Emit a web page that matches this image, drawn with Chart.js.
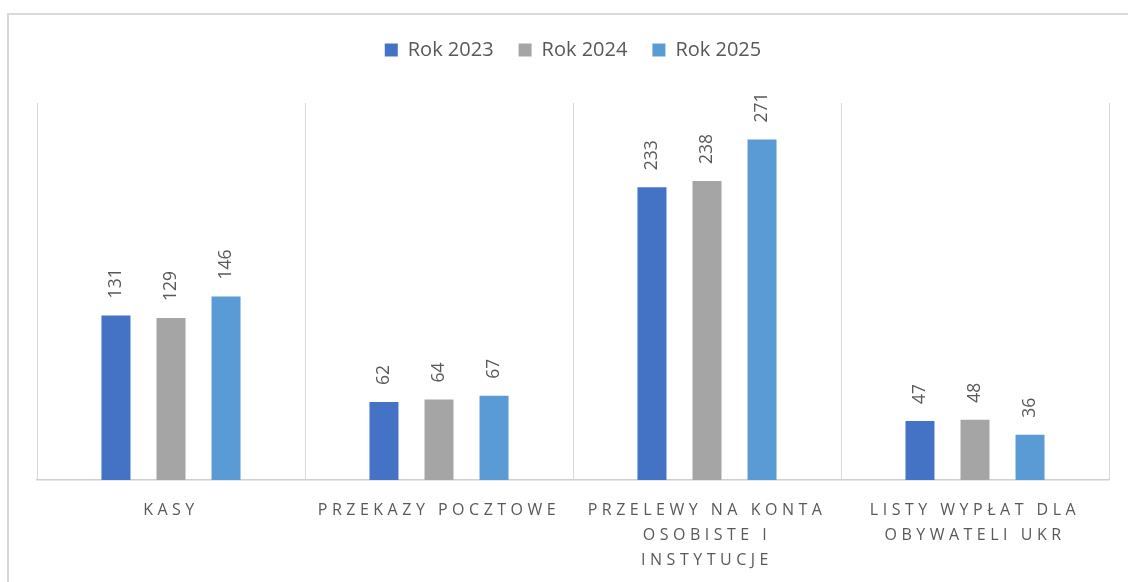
<!DOCTYPE html>
<html><head><meta charset="utf-8">
<script src="https://cdn.jsdelivr.net/npm/chart.js@4.4.1/dist/chart.umd.min.js"></script>
<style>
html,body{margin:0;padding:0;background:#fff;}
#wrap{position:relative;width:1128px;height:582px;overflow:hidden;background:#fff;}
#frame{position:absolute;left:7px;top:13px;width:1200px;height:700px;border-left:2px solid #d9d9d9;border-top:2px solid #d9d9d9;}
canvas{position:absolute;left:0;top:0;}
</style></head><body>
<div id="wrap"><div id="frame"></div><canvas id="c" width="1128" height="582"></canvas></div>
<script>
const categories = [['KASY'], ['PRZEKAZY POCZTOWE'], ['PRZELEWY NA KONTA', 'OSOBISTE I', 'INSTYTUCJE'], ['LISTY WYPŁAT DLA', 'OBYWATELI UKR']];
const seriesNames = ['Rok 2023', 'Rok 2024', 'Rok 2025'];
const values2023 = [131, 62, 233, 47];
const values2024 = [129, 64, 238, 48];
const values2025 = [146, 67, 271, 36];
const seriesColors = ['#4472C4', '#A5A5A5', '#5B9BD5'];
const yMax = 300;

const textColor = '#595959';
const FONT = "'Open Sans', 'Liberation Sans', sans-serif";

const valueLabels = {
  id: 'valueLabels',
  afterDatasetsDraw(chart) {
    const ctx = chart.ctx;
    ctx.save();
    ctx.font = '17.5px ' + FONT;
    ctx.fillStyle = textColor;
    ctx.textAlign = 'left';
    ctx.textBaseline = 'middle';
    chart.data.datasets.forEach((ds, i) => {
      const meta = chart.getDatasetMeta(i);
      meta.data.forEach((bar, j) => {
        ctx.save();
        ctx.translate(bar.x, bar.y - 17);
        ctx.rotate(-Math.PI / 2);
        ctx.fillText(String(ds.data[j]), 0, 0);
        ctx.restore();
      });
    });
    ctx.restore();
  }
};

const spacedTicks = {
  id: 'spacedTicks',
  afterInit(chart) {
    const lg = chart.legend;
    if (lg && !lg._fixed) {
      const f = lg.fit.bind(lg);
      lg.fit = function () { f(); this.height = 88; };
      lg._fixed = true;
    }
  },
  beforeDraw(chart) {
    const xs = chart.scales.x;
    if (xs && !xs._spaced) {
      const orig = xs.drawLabels.bind(xs);
      xs.drawLabels = function (area) {
        const ctx = this.ctx;
        ctx.save();
        ctx.letterSpacing = '4.5px';
        orig(area);
        ctx.restore();
      };
      xs._spaced = true;
    }
  }
};

const datasets = [values2023, values2024, values2025].map((vals, i) => ({
  label: seriesNames[i],
  data: vals,
  backgroundColor: seriesColors[i],
  borderWidth: 0,
  categoryPercentage: 0.616,
  barPercentage: 0.527
}));

new Chart(document.getElementById('c'), {
  type: 'bar',
  data: { labels: categories, datasets },
  options: {
    responsive: false,
    animation: false,
    devicePixelRatio: 1,
    layout: { padding: { top: 15, left: 37, right: 19, bottom: 0 } },
    plugins: {
      tooltip: { enabled: false },
      legend: {
        position: 'top',
        labels: {
          boxWidth: 13,
          boxHeight: 13,
          padding: 25,
          color: textColor,
          font: { size: 20, family: FONT }
        }
      }
    },
    scales: {
      x: {
        afterFit(scale) { scale.height = 102; },
        grid: { display: true, offset: true, color: '#d9d9d9', lineWidth: 1, drawTicks: false },
        border: { display: true, color: '#d0d0d0', width: 1.5 },
        ticks: {
          color: textColor,
          autoSkip: false,
          maxRotation: 0,
          minRotation: 0,
          padding: 17.5,
          font: { size: 16, family: FONT, lineHeight: 1.5625 }
        }
      },
      y: {
        display: false,
        min: 0,
        max: yMax
      }
    }
  },
  plugins: [valueLabels, spacedTicks]
});
</script>
</body></html>
